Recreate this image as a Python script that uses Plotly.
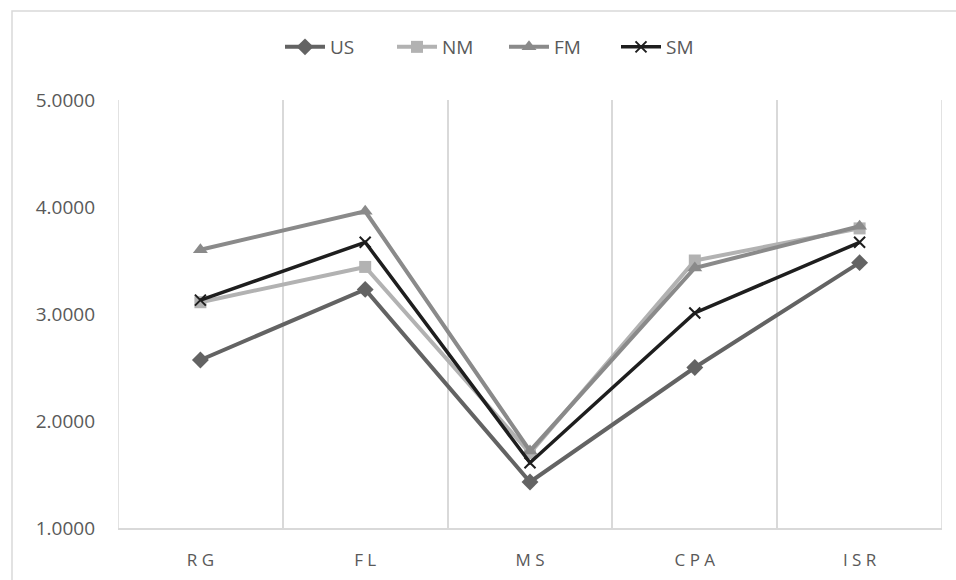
import plotly.graph_objects as go

categories = ["RG", "FL", "MS", "CPA", "ISR"]
tick_labels = ["R G", "F L", "M S", "C P A", "I S R"]

us = [2.57, 3.23, 1.43, 2.50, 3.48]
nm = [3.11, 3.44, 1.70, 3.50, 3.80]
fm = [3.60, 3.96, 1.72, 3.43, 3.82]
sm = [3.13, 3.67, 1.61, 3.01, 3.67]

series = [
    ("US", us, "#636363", "diamond", 13, 4),
    ("NM", nm, "#b2b2b2", "square", 12, 4),
    ("FM", fm, "#8a8a8a", "triangle-up", 13, 4),
    ("SM", sm, "#1e1e1e", "x-thin", 11, 3.5),
]

fig = go.Figure()
for name, vals, color, symbol, size, width in series:
    marker = dict(symbol=symbol, size=size, color=color)
    if symbol == "x-thin":
        marker["line"] = dict(color=color, width=2)
    fig.add_trace(go.Scatter(
        x=categories, y=vals, name=name, mode="lines+markers",
        line=dict(color=color, width=width), marker=marker,
    ))

grid = "#d9d9d9"
L, R, T, B = 118, 14, 100, 52
W, H = 956, 580
pw, ph = W - L - R, H - T - B

fig.update_layout(
    width=W, height=H,
    margin=dict(l=L, r=R, t=T, b=B, autoexpand=False),
    paper_bgcolor="white", plot_bgcolor="white",
    font=dict(family="Open Sans, Liberation Sans, sans-serif", size=18, color="#595959"),
    legend=dict(orientation="h", xref="container", yref="container",
                x=280 / W, xanchor="left", y=1 - 47 / H, yanchor="middle",
                font=dict(size=19, color="#595959"), itemwidth=40,
                entrywidth=57, entrywidthmode="pixels", tracegroupgap=0),
    showlegend=True,
    xaxis=dict(
        type="category", range=[-0.5, 4.5], tickson="boundaries",
        tickvals=categories, ticktext=tick_labels,
        showgrid=True, gridcolor=grid, gridwidth=1.5,
        showline=True, linecolor=grid, linewidth=1.5,
        ticks="", ticklabelstandoff=16, tickfont=dict(size=17, color="#595959"),
        zeroline=False, automargin=False,
    ),
    yaxis=dict(
        range=[1, 5], dtick=1, tickformat=".4f",
        showgrid=False, zeroline=False, showline=False,
        ticks="", ticklabelstandoff=22, tickfont=dict(size=19, color="#595959"),
        automargin=False,
    ),
    shapes=[
        # plot-area edges
        dict(type="line", xref="x", yref="paper", x0=-0.5, x1=-0.5, y0=0, y1=1,
             line=dict(color=grid, width=1.5)),
        dict(type="line", xref="x", yref="paper", x0=4.5, x1=4.5, y0=0, y1=1,
             line=dict(color=grid, width=1.5)),
        # outer chart border
        dict(type="rect", xref="paper", yref="paper",
             x0=(12 - L) / pw, x1=(W - L + 20) / pw,
             y0=(-B - 20) / ph, y1=(H - B - 11) / ph,
             line=dict(color=grid, width=1.5), layer="below"),
    ],
)

fig.write_html("out.html")
